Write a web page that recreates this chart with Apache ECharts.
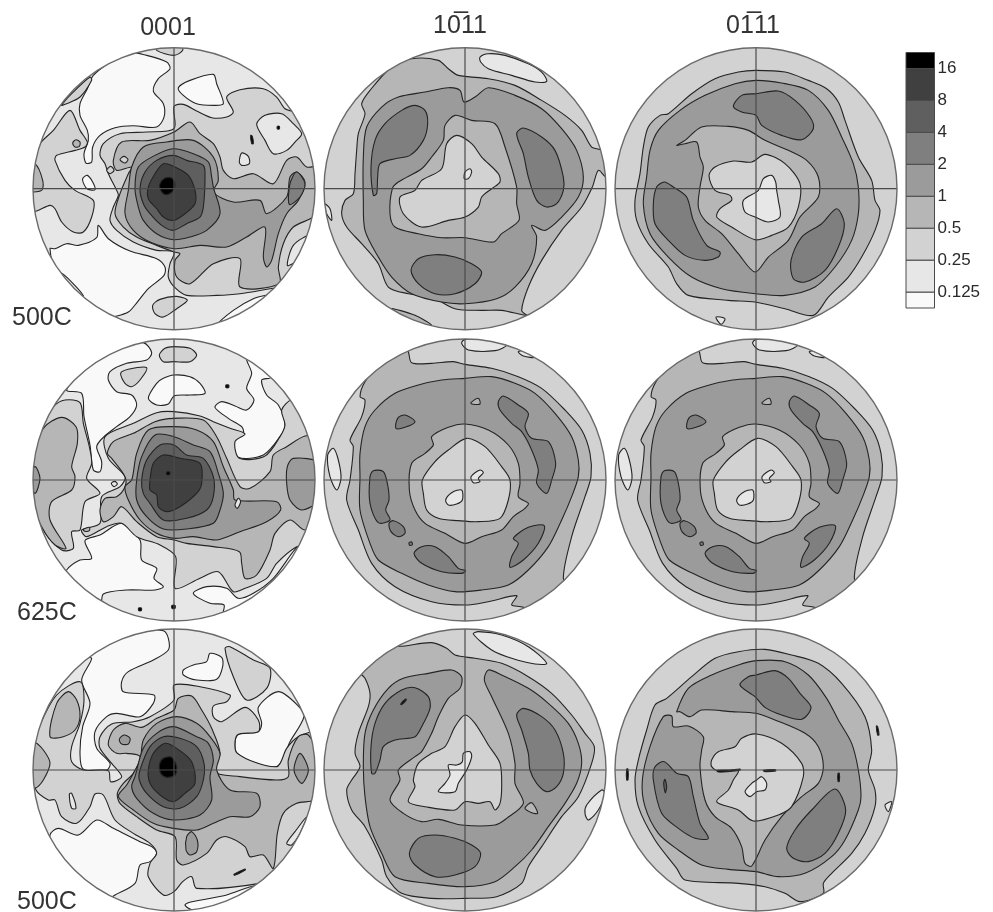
<!DOCTYPE html>
<html>
<head>
<meta charset="utf-8">
<style>html,body{margin:0;padding:0;background:#fff}#chart{width:993px;height:912px}</style>
<script src="https://cdn.jsdelivr.net/npm/echarts@6/dist/echarts.min.js"></script>
</head>
<body>
<div id="chart"></div>
<script>
// band greys, lowest (<0.125) to highest (>16)
const levelColors = ['#f9f9f9', '#e7e7e7', '#d2d2d2', '#b6b6b6', '#9b9b9b', '#7f7f7f', '#5f5f5f', '#404040', '#000000'];
const legendLabels = ['0.125', '0.25', '0.5', '1', '2', '4', '8', '16'];
const columnTitles = ['0001', '10\u030511', '01\u030511'];
const rowLabels = ['500C', '625C', '500C'];

// contours: [band, x, y, x, y, ...], painted in order
const fig0001a = [
  [0, 380,155, 440,165, 500,185, 510,205, 475,235, 460,272, 490,310, 492,350, 470,380, 400,376, 345,382, 300,405, 278,440, 275,485, 258,488, 252,460, 265,420, 262,390, 240,345, 240,310, 262,265, 280,225, 330,185],
  [0, 150,745, 165,745, 200,730, 235,735, 290,712, 295,675, 325,715, 390,752, 470,775, 495,800, 492,825, 445,865, 412,905, 385,935, 340,950, 300,960, 230,920, 170,830],
  [1, 183,818, 215,845, 250,886, 230,880, 190,840],
  [0, 535,262, 570,240, 640,222, 650,250, 670,310, 640,315, 590,310, 550,285],
  [0, 650,975, 700,930, 760,895, 815,880, 860,860, 900,800, 800,950, 650,1010],
  [2, 120,430, 160,390, 210,330, 240,390, 262,425, 255,440, 225,450, 170,465, 165,480, 195,540, 225,570, 280,600, 275,650, 250,695, 220,695, 185,665, 165,625, 150,615, 110,632, 90,632, 85,565, 95,490],
  [3, 218,428, 228,418, 240,425, 238,438, 225,440],
  [3, 80,570, 125,570, 128,540, 105,490, 80,500],
  [0, 248,535, 262,525, 278,545, 285,568, 262,566, 252,552],
  [2, 185,315, 215,280, 270,230, 275,240, 240,290, 195,312],
  [2, 470,150, 522,165, 548,150, 540,130, 470,130],
  [2, 458,915, 480,897, 530,888, 562,900, 530,925, 490,950, 465,940],
  [2, 522,318, 550,312, 590,332, 635,352, 680,350, 700,335, 680,290, 720,268, 790,265, 830,290, 855,325, 905,345, 965,565, 945,700, 925,780, 860,860, 830,862, 720,880, 650,885, 560,885, 525,862, 505,830, 510,790, 522,755, 470,750, 400,725, 350,690, 330,660, 340,620, 355,585, 350,570, 325,520, 315,490, 300,465, 310,430, 360,400, 440,395, 522,385],
  [1, 770,372, 795,345, 845,340, 880,370, 905,400, 885,425, 860,450, 820,460, 795,420],
  [1, 862,795, 880,735, 928,705, 920,740, 885,785],
  [3, 340,480, 365,425, 450,420, 522,395, 570,365, 600,400, 640,430, 660,470, 670,510, 700,535, 760,520, 820,550, 860,480, 890,470, 920,500, 960,500, 960,620, 940,650, 880,680, 850,730, 835,800, 838,850, 720,860, 720,775, 640,790, 570,850, 530,830, 525,780, 540,760, 522,755, 470,735, 410,710, 370,680, 345,640, 360,580, 385,520, 395,500, 350,510],
  [2, 360,478, 372,468, 384,478, 375,488],
  [2, 320,510, 332,498, 342,510, 330,520],
  [4, 385,570, 395,500, 430,440, 500,425, 580,420, 640,470, 655,540, 640,575, 700,605, 780,600, 800,640, 860,590, 870,530, 890,515, 915,545, 895,600, 860,640, 835,700, 815,780, 800,800, 790,770, 795,680, 740,710, 680,740, 600,735, 525,745, 450,725, 400,690, 375,640],
  [5, 870,550, 890,515, 915,550, 900,590, 868,612],
  [5, 405,565, 415,500, 465,465, 520,445, 580,460, 625,485, 635,530, 640,560, 660,640, 620,690, 570,710, 520,718, 470,700, 430,660, 415,620],
  [6, 420,565, 435,515, 470,480, 520,465, 560,480, 610,495, 615,530, 610,620, 600,650, 560,670, 520,690, 485,675, 450,640, 430,610],
  [7, 445,560, 465,520, 490,490, 525,500, 565,525, 585,570, 585,610, 555,640, 520,660, 490,650, 470,625, 445,595],
  [8, 480,550, 495,533, 515,533, 525,550, 520,570, 505,582, 490,580, 480,565],
  [1, 718,485, 725,458, 745,468, 748,490, 725,495],
  [8, 752,405, 757,408, 760,430, 755,430],
  [8, 832,378, 838,378, 838,386, 832,386]
];

const fig1011a = [
  [1, 495,170, 520,160, 570,165, 640,190, 680,215, 695,243, 660,245, 590,225, 520,205, 497,185],
  [1, 28,610, 45,625, 50,660, 35,640],
  [3, 230,925, 300,945, 350,975, 300,965],
  [3, 140,310, 165,270, 230,200, 290,175, 370,180, 400,205, 430,225, 520,235, 600,255, 680,300, 750,345, 800,390, 830,440, 860,450, 885,490, 880,530, 870,528, 850,510, 832,560, 800,620, 740,690, 680,780, 640,860, 620,930, 635,945, 560,930, 500,930, 420,925, 350,890, 280,880, 220,860, 190,790, 140,730, 95,680, 80,640, 90,600, 115,580, 120,520, 125,450, 130,400, 150,340],
  [4, 145,470, 155,380, 200,320, 250,290, 330,275, 400,262, 435,270, 447,305, 480,290, 520,262, 600,285, 680,325, 740,385, 785,450, 805,530, 790,590, 740,650, 690,690, 650,675, 665,710, 650,790, 600,860, 545,895, 450,910, 380,905, 290,880, 230,830, 190,770, 150,690, 145,600],
  [5, 175,585, 168,500, 180,420, 210,370, 260,330, 300,315, 330,330, 338,370, 325,420, 285,465, 240,475, 195,490, 188,530, 185,580],
  [5, 605,400, 625,383, 680,410, 720,450, 745,530, 745,570, 725,610, 695,620, 665,600, 640,530, 625,460],
  [5, 288,810, 310,775, 360,763, 420,770, 470,790, 500,815, 480,850, 420,880, 360,880, 310,850],
  [3, 232,565, 250,545, 320,505, 350,470, 385,420, 390,375, 420,345, 470,360, 540,370, 570,440, 605,560, 605,610, 612,660, 560,700, 535,725, 450,712, 380,712, 310,700, 240,680, 225,640],
  [2, 255,590, 300,570, 320,540, 380,505, 395,430, 425,405, 470,430, 500,470, 550,520, 555,545, 530,565, 500,590, 490,620, 450,650, 400,660, 320,680, 265,640],
  [1, 448,535, 450,515, 465,505, 470,515, 460,535]
];

const fig0111a = [
  [1, 333,950, 360,955, 348,972],
  [3, 95,660, 90,600, 105,520, 115,440, 130,380, 165,345, 190,340, 260,280, 330,235, 400,215, 453,210, 540,215, 610,240, 665,265, 700,305, 720,360, 760,470, 800,540, 810,600, 825,630, 810,690, 770,770, 730,830, 670,890, 625,945, 540,925, 450,905, 370,900, 250,885, 215,850, 190,800, 130,730],
  [4, 115,610, 125,530, 135,450, 160,390, 225,330, 300,285, 390,250, 453,240, 530,248, 610,270, 670,330, 710,410, 745,490, 760,560, 760,640, 740,720, 690,800, 630,860, 540,885, 453,880, 350,865, 260,830, 190,770, 135,700],
  [5, 385,318, 410,285, 453,280, 520,272, 570,300, 615,350, 625,385, 590,418, 530,405, 470,375, 453,345, 410,335],
  [5, 145,610, 155,560, 178,545, 205,560, 245,590, 265,660, 305,735, 345,755, 340,770, 300,780, 240,765, 190,720, 150,670],
  [5, 558,780, 590,710, 650,670, 695,625, 718,670, 700,740, 660,810, 600,845, 565,835],
  [3, 215,435, 240,430, 275,425, 285,470, 295,500, 285,560, 280,620, 300,660, 350,700, 400,760, 450,815, 490,770, 550,720, 585,650, 640,590, 640,530, 605,480, 550,450, 480,420, 430,390, 370,378, 290,380, 240,420],
  [2, 312,525, 330,500, 385,482, 440,485, 480,462, 540,490, 585,550, 580,620, 550,680, 500,705, 450,718, 380,680, 335,650, 345,625, 380,600, 375,585, 330,570],
  [1, 415,600, 460,570, 475,535, 500,525, 512,545, 515,570, 520,600, 525,650, 490,665, 450,650, 420,635]
];

const fig0001b = [
  [0, 200,180, 245,190, 252,260, 270,345, 280,420, 300,425, 305,395, 290,350, 310,322, 350,290, 390,260, 410,225, 395,195, 350,185, 325,150, 330,125, 380,100, 440,90, 455,68, 430,38, 340,50, 260,110],
  [0, 445,205, 470,160, 490,145, 522,135, 570,140, 600,160, 615,190, 570,195, 522,198, 505,222, 470,225],
  [0, 740,85, 755,130, 740,175, 762,210, 740,240, 705,228, 665,215, 645,232, 685,265, 725,290, 730,310, 700,330, 715,382, 790,375, 840,320, 855,285, 835,225, 800,195, 785,150, 812,142, 780,85],
  [0, 200,720, 240,690, 275,685, 255,632, 300,615, 365,580, 420,630, 425,690, 470,715, 462,745, 490,770, 465,780, 380,780, 310,792, 300,830, 190,760],
  [0, 580,790, 620,770, 680,775, 715,805, 760,790, 820,745, 905,640, 930,700, 780,880, 670,860, 672,825, 630,820],
  [2, 362,130, 385,118, 440,113, 420,150, 395,170, 375,160],
  [2, 478,75, 495,55, 522,50, 570,55, 590,75, 570,95, 522,95, 490,95],
  [2, 130,280, 160,230, 195,210, 240,218, 250,280, 268,350, 275,400, 260,445, 300,490, 255,515, 240,600, 215,605, 220,655, 185,660, 130,600, 85,500, 85,400],
  [3, 90,395, 130,295, 185,262, 228,290, 232,340, 215,410, 225,440, 215,480, 155,515, 150,570, 198,655, 165,645, 125,590, 90,500],
  [4, 85,445, 105,410, 120,445, 105,490],
  [2, 315,320, 400,280, 470,248, 522,245, 600,258, 640,275, 690,295, 735,312, 705,335, 718,385, 795,378, 840,320, 855,285, 845,240, 875,210, 900,240, 950,340, 965,570, 920,650, 890,650, 830,700, 800,745, 735,775, 700,785, 655,725, 600,745, 525,775, 527,680, 480,645, 410,620, 365,580, 320,590, 260,620, 245,600, 300,580, 305,500, 360,470, 375,440, 325,385],
  [3, 322,370, 340,335, 400,310, 465,275, 522,265, 610,270, 650,320, 680,385, 720,470, 750,475, 810,425, 820,375, 860,350, 915,318, 950,325, 950,560, 915,600, 870,570, 825,610, 810,660, 770,735, 735,745, 725,700, 718,665, 640,650, 560,640, 522,630, 470,620, 410,575, 365,530, 340,560, 310,575, 300,540, 315,505, 350,500, 375,470, 375,440, 335,385],
  [4, 860,460, 862,410, 880,385, 955,400, 955,510, 905,540, 870,510],
  [4, 395,450, 410,370, 445,300, 522,290, 590,300, 640,335, 670,410, 700,480, 705,510, 830,515, 842,540, 800,575, 720,605, 650,630, 580,620, 522,625, 470,610, 420,570, 385,510, 375,470],
  [5, 410,450, 425,380, 465,315, 522,320, 580,345, 630,365, 655,430, 670,490, 660,540, 640,580, 560,597, 490,597, 440,560, 410,510],
  [6, 425,450, 440,390, 480,345, 522,345, 560,375, 610,385, 640,440, 640,500, 620,540, 560,565, 490,570, 450,520, 430,490],
  [7, 450,450, 460,400, 490,375, 540,385, 600,400, 605,460, 590,490, 540,530, 500,545, 475,530, 470,495, 450,480],
  [1, 705,525, 715,505, 722,515, 712,535],
  [1, 334,460, 344,454, 352,462, 342,470],
  [3, 250,598, 268,592, 268,602, 254,604],
  [8, 678,165, 686,165, 686,173, 678,173],
  [8, 500,426, 509,426, 509,434, 500,434],
  [8, 416,834, 424,834, 424,842, 416,842],
  [8, 516,826, 525,826, 525,835, 516,835]
];

const fig1011b = [
  [1, 440,40, 450,28, 530,30, 575,45, 540,62, 460,60],
  [1, 610,65, 640,62, 660,82, 625,78],
  [1, 38,375, 55,355, 70,390, 78,445, 65,480, 45,440],
  [3, 280,65, 290,98, 350,100, 415,95, 450,103, 530,115, 610,140, 680,175, 750,240, 800,300, 825,370, 828,440, 810,500, 770,620, 745,745, 770,780, 660,860, 625,832, 590,825, 605,797, 520,815, 450,825, 350,815, 240,770, 170,700, 130,600, 95,510, 105,450, 115,350, 105,330, 140,260, 150,210, 135,200, 150,155, 200,90, 270,50],
  [4, 135,440, 135,370, 150,290, 180,240, 240,190, 310,165, 380,150, 450,145, 530,140, 600,160, 660,190, 720,250, 770,320, 790,390, 790,440, 770,500, 740,570, 700,650, 640,720, 580,765, 500,780, 420,785, 340,765, 260,730, 190,690, 165,640, 135,540],
  [5, 550,215, 565,198, 610,225, 640,250, 630,290, 650,325, 700,335, 722,400, 710,450, 695,490, 665,460, 670,420, 650,360, 620,305, 590,280, 555,240],
  [5, 165,440, 175,422, 205,425, 218,465, 222,510, 212,540, 225,570, 190,578, 165,520],
  [5, 222,580, 235,572, 265,590, 270,610, 250,620, 228,605],
  [5, 297,670, 320,650, 360,650, 400,680, 430,715, 452,722, 440,730, 380,725, 320,700],
  [5, 595,625, 640,592, 688,587, 670,640, 625,690, 585,712, 590,680, 610,640],
  [5, 243,295, 248,265, 270,255, 300,275, 270,292],
  [3, 468,218, 490,205, 495,222, 470,222],
  [5, 282,638, 290,636, 292,644, 284,646],
  [3, 290,400, 330,370, 355,345, 350,320, 400,292, 450,282, 520,300, 580,345, 610,400, 615,460, 610,500, 640,520, 630,535, 595,560, 560,600, 500,620, 450,640, 390,610, 330,580, 300,540, 283,480],
  [2, 322,450, 360,395, 400,360, 455,325, 510,350, 560,410, 585,450, 580,510, 555,565, 490,575, 430,572, 370,565, 335,540, 325,490],
  [1, 468,440, 495,420, 505,428, 490,445, 495,455, 475,458],
  [1, 392,510, 410,488, 440,480, 442,510, 425,522, 400,525]
];

// the 0111 pole figure at 625C reads the same as the 1011 one
const fig0111b = fig1011b;

const fig0001c = [
  [0, 275,115, 245,180, 270,250, 248,320, 240,400, 250,448, 320,450, 330,430, 290,385, 285,335, 320,290, 350,280, 420,290, 460,250, 462,225, 370,215, 365,185, 385,155, 460,120, 505,90, 505,55, 490,32, 400,30, 310,60, 250,110],
  [0, 150,645, 175,625, 235,645, 290,600, 340,625, 420,665, 455,680, 470,700, 450,725, 420,735, 405,790, 345,825, 300,850, 160,720],
  [0, 775,262, 835,215, 895,258, 912,290, 870,365, 830,440, 712,400, 712,345, 775,335, 785,310],
  [0, 555,855, 680,825, 775,795, 900,800, 700,900],
  [0, 550,150, 580,135, 620,125, 630,100, 665,112, 668,140, 650,178, 590,180, 550,165],
  [2, 675,85, 690,80, 760,120, 810,145, 800,205, 740,240, 700,170],
  [2, 120,315, 170,225, 240,185, 252,240, 240,310, 215,380, 215,425, 250,450, 325,452, 332,485, 365,470, 335,430, 300,385, 300,350, 335,312, 400,305, 450,290, 522,240, 522,195, 600,200, 690,225, 680,245, 640,258, 640,290, 665,305, 735,262, 775,300, 775,335, 712,345, 712,400, 830,440, 860,385, 895,350, 950,340, 950,540, 930,600, 885,680, 830,765, 780,790, 590,805, 575,770, 548,785, 522,815, 490,825, 445,770, 450,730, 470,700, 450,670, 400,640, 345,600, 310,525, 285,522, 270,560, 230,610, 185,590, 165,540, 145,540, 108,510, 100,450, 105,370],
  [1, 860,670, 885,635, 920,590, 900,640, 875,675],
  [1, 208,522, 215,520, 228,565, 215,565],
  [3, 150,350, 170,250, 205,215, 230,240, 240,290, 225,330, 190,350],
  [3, 85,450, 105,370, 130,390, 150,430, 130,480, 105,505, 85,500],
  [3, 325,375, 340,330, 375,310, 425,322, 470,295, 522,270, 535,235, 575,228, 605,270, 635,325, 660,400, 640,455, 720,470, 830,480, 865,470, 865,420, 895,350, 925,345, 950,400, 950,535, 890,550, 850,580, 832,640, 820,745, 790,705, 750,710, 735,680, 680,650, 650,660, 620,700, 550,735, 530,720, 525,650, 470,630, 410,590, 360,550, 352,520, 370,490, 400,460, 420,410, 380,400, 350,400],
  [4, 882,450, 900,400, 925,450, 905,490],
  [4, 358,358, 372,345, 390,355, 385,372, 365,372],
  [4, 380,495, 420,420, 430,360, 470,310, 530,290, 590,310, 630,350, 660,400, 650,450, 690,510, 770,520, 780,560, 750,590, 690,590, 640,610, 590,630, 520,625, 460,610, 400,570, 355,530],
  [4, 560,650, 575,635, 592,660, 590,695, 570,705, 558,690],
  [5, 405,470, 430,385, 470,340, 520,320, 590,350, 625,370, 640,420, 630,470, 635,540, 600,585, 520,600, 460,580, 410,535, 395,500],
  [6, 420,450, 450,380, 490,350, 540,355, 590,380, 612,430, 610,480, 590,530, 540,565, 490,560, 440,520, 418,480],
  [7, 445,450, 460,400, 495,370, 530,385, 575,425, 585,490, 555,520, 520,545, 480,525, 450,490],
  [8, 478,435, 490,415, 515,412, 530,440, 525,465, 500,472, 482,460],
  [8, 702,763, 735,747, 736,750, 704,766]
];

const fig1011c = [
  [1, 475,42, 490,35, 560,45, 640,80, 695,130, 660,132, 590,115, 530,90],
  [1, 810,580, 815,555, 860,510, 870,520, 850,570, 820,600],
  [3, 150,175, 130,150, 200,85, 270,78, 350,68, 395,85, 420,105, 480,115, 560,130, 640,170, 710,220, 770,285, 810,340, 838,380, 830,430, 790,530, 740,590, 680,680, 640,740, 620,790, 545,830, 450,835, 350,835, 260,820, 215,770, 200,720, 150,620, 110,570, 95,510, 110,480, 135,440, 120,400, 130,340, 160,260, 165,220],
  [4, 410,150, 440,170, 435,205, 400,235, 370,290, 350,340, 320,395, 300,410, 250,450, 255,480, 225,540, 265,580, 320,605, 370,598, 440,615, 540,615, 575,595, 625,550, 600,490, 600,430, 580,340, 530,230, 508,180, 520,150, 560,165, 640,205, 700,250, 760,310, 790,370, 800,430, 785,490, 750,550, 700,620, 650,690, 600,740, 540,785, 450,800, 340,790, 240,770, 200,700, 165,620, 150,530, 145,440, 150,340, 175,270, 220,205, 265,175, 340,160],
  [5, 170,460, 168,380, 180,310, 210,250, 260,210, 300,203, 340,230, 345,265, 320,320, 300,350, 240,360, 205,380, 195,420, 180,460],
  [8, 257,252, 272,237, 274,240, 260,254],
  [5, 605,285, 625,265, 680,290, 720,330, 745,400, 745,460, 725,500, 695,515, 665,490, 645,450, 640,400, 620,330],
  [5, 283,700, 310,655, 360,645, 420,655, 470,675, 497,700, 480,740, 420,765, 360,770, 300,735],
  [2, 280,545, 300,500, 295,480, 310,430, 350,400, 390,380, 420,320, 450,285, 480,310, 520,375, 555,430, 560,500, 555,550, 540,570, 525,545, 490,550, 450,545, 420,570, 330,560],
  [1, 370,515, 390,490, 405,465, 400,435, 425,435, 442,425, 445,400, 465,395, 470,410, 455,450, 430,490, 420,515],
  [3, 630,565, 650,548, 668,580, 650,578]
];

const fig0111c = [
  [3, 90,480, 100,420, 125,330, 150,255, 185,235, 260,170, 330,115, 400,95, 480,88, 560,105, 640,130, 710,190, 780,290, 800,390, 790,450, 810,510, 810,560, 780,640, 740,700, 680,760, 655,790, 655,820, 585,845, 540,820, 480,800, 400,790, 240,780, 215,745, 150,660, 100,560],
  [4, 215,275, 250,205, 320,165, 400,135, 453,122, 540,125, 610,165, 665,235, 700,300, 740,370, 760,450, 768,530, 760,570, 720,660, 680,710, 600,760, 520,770, 453,755, 370,748, 290,735, 220,690, 160,640, 120,560, 112,480, 135,380, 175,290, 200,288, 205,320, 250,318, 295,350, 290,390, 285,440, 300,540, 330,590, 380,625, 410,680, 420,730, 440,738, 480,660, 530,590, 590,530, 640,490, 655,440, 640,380, 600,340, 510,300, 453,280, 380,275, 290,270, 255,290, 225,275],
  [5, 405,195, 430,170, 453,165, 510,152, 550,175, 585,220, 618,262, 590,298, 530,285, 480,262, 450,230],
  [5, 145,480, 150,440, 178,425, 215,460, 250,470, 265,530, 285,610, 310,655, 270,655, 220,625, 170,580],
  [6, 176,490, 180,478, 185,500, 181,518],
  [5, 545,685, 570,630, 620,570, 690,507, 722,570, 700,640, 660,700, 610,725, 565,715],
  [2, 320,420, 340,395, 390,380, 410,355, 455,342, 530,370, 590,430, 595,470, 560,560, 520,585, 445,603, 400,570, 335,545, 370,510, 385,480, 400,452, 345,455, 320,440],
  [8, 335,451, 375,450, 405,447, 405,451, 375,454, 340,456],
  [8, 475,451, 510,449, 512,453, 480,455],
  [1, 420,515, 440,490, 455,480, 470,470, 485,490, 480,510, 455,515, 435,530],
  [8, 814,318, 818,320, 822,345, 818,345],
  [8, 65,447, 69,447, 69,480, 65,480],
  [8, 699,460, 703,460, 703,484, 699,484],
  [1, 840,555, 860,545, 850,575]
];

const panels = [
  { contours: fig0001a, base: 1, cx: 522, cy: 565, left: 33, top: 47.7 },
  { contours: fig1011a, base: 2, cx: 450, cy: 565, left: 324, top: 47.7 },
  { contours: fig0111a, base: 2, cx: 453, cy: 565, left: 615, top: 47.7 },
  { contours: fig0001b, base: 1, cx: 522, cy: 450, left: 33, top: 339 },
  { contours: fig1011b, base: 2, cx: 450, cy: 450, left: 324, top: 339 },
  { contours: fig0111b, base: 2, cx: 450, cy: 450, left: 615, top: 339 },
  { contours: fig0001c, base: 1, cx: 522, cy: 450, left: 33, top: 629 },
  { contours: fig1011c, base: 2, cx: 450, cy: 450, left: 324, top: 629 },
  { contours: fig0111c, base: 2, cx: 453, cy: 450, left: 615, top: 629 }
];
const R = 423;
const SIZE = 282;

const grid = [], xAxis = [], yAxis = [], series = [];

panels.forEach((p, i) => {
  grid.push({ left: p.left, top: p.top, width: SIZE, height: SIZE });
  xAxis.push({ type: 'value', gridIndex: i, min: p.cx - R, max: p.cx + R, show: false });
  yAxis.push({ type: 'value', gridIndex: i, min: p.cy - R, max: p.cy + R, inverse: true, show: false });
  const items = [[p.base]].concat(p.contours);
  series.push({
    type: 'custom',
    xAxisIndex: i,
    yAxisIndex: i,
    clip: false,
    silent: true,
    data: items.map((c, k) => [k]),
    renderItem(params, api) {
      const c0 = api.coord([p.cx, p.cy]);
      const r = api.size([R, 0])[0];
      const circleShape = { cx: c0[0], cy: c0[1], r };
      if (params.dataIndex === 0) {
        return { type: 'circle', shape: circleShape, style: { fill: levelColors[p.base], stroke: null } };
      }
      const c = items[params.dataIndex];
      const points = [];
      for (let k = 1; k < c.length; k += 2) points.push(api.coord([c[k], c[k + 1]]));
      return {
        type: 'polygon',
        shape: { points, smooth: 0.3 },
        style: { fill: levelColors[c[0]], stroke: '#242424', lineWidth: 1.1 },
        clipPath: { type: 'circle', shape: circleShape }
      };
    }
  });
  // crosshair and rim
  series.push({
    type: 'custom',
    xAxisIndex: i,
    yAxisIndex: i,
    clip: false,
    silent: true,
    z: 5,
    data: [[0]],
    renderItem(params, api) {
      const c0 = api.coord([p.cx, p.cy]);
      const r = api.size([R, 0])[0];
      const lineStyle = { stroke: '#4a4a4a', lineWidth: 1.2 };
      return {
        type: 'group',
        children: [
          { type: 'line', shape: { x1: c0[0] - r, y1: c0[1], x2: c0[0] + r, y2: c0[1] }, style: lineStyle },
          { type: 'line', shape: { x1: c0[0], y1: c0[1] - r, x2: c0[0], y2: c0[1] + r }, style: lineStyle },
          { type: 'circle', shape: { cx: c0[0], cy: c0[1], r }, style: { fill: null, stroke: '#6a6a6a', lineWidth: 1.4 } }
        ]
      };
    }
  });
});

// legend bar: half bands at both ends, edges on the labelled levels
const legendBands = levelColors.map((col, k) => [k === 0 ? 0 : k - 0.5, k === 0 ? 0.5 : Math.min(k + 0.5, 8), k]);
const li = panels.length;
grid.push({ left: 906, top: 52.5, width: 28.5, height: 255.5 });
xAxis.push({ type: 'value', gridIndex: li, min: 0, max: 1, show: false });
yAxis.push({
  type: 'value',
  gridIndex: li,
  min: 0,
  max: 8,
  position: 'right',
  axisLine: { show: false },
  axisTick: { show: false },
  splitLine: { show: false },
  axisLabel: {
    customValues: legendLabels.map((l, k) => k + 0.5),
    formatter: v => legendLabels[v - 0.5],
    margin: 3,
    fontFamily: 'Liberation Sans',
    fontSize: 17,
    color: '#2a2a2a'
  }
});
series.push({
  type: 'custom',
  xAxisIndex: li,
  yAxisIndex: li,
  clip: false,
  silent: true,
  data: legendBands,
  renderItem(params, api) {
    const a = api.coord([0, api.value(1)]);
    const b = api.coord([1, api.value(0)]);
    return {
      type: 'rect',
      shape: { x: a[0], y: a[1], width: b[0] - a[0], height: b[1] - a[1] },
      style: { fill: levelColors[api.value(2)], stroke: '#4a4a4a', lineWidth: 1 }
    };
  }
});

const labelStyle = { fontFamily: 'Liberation Sans', fontSize: 25, fontWeight: 'normal', color: '#333' };
const titles = [
  { text: columnTitles[0], left: 168, top: 16, textAlign: 'center', textStyle: labelStyle, padding: 0 },
  { text: columnTitles[1], left: 460, top: 14, textAlign: 'center', textStyle: labelStyle, padding: 0 },
  { text: columnTitles[2], left: 753, top: 14, textAlign: 'center', textStyle: labelStyle, padding: 0 },
  { text: rowLabels[0], left: 12, top: 306, textStyle: labelStyle, padding: 0 },
  { text: rowLabels[1], left: 17, top: 601, textStyle: labelStyle, padding: 0 },
  { text: rowLabels[2], left: 17, top: 890, textStyle: labelStyle, padding: 0 }
];

const chart = echarts.init(document.getElementById('chart'));
chart.setOption({
  backgroundColor: '#fff',
  animation: false,
  title: titles,
  grid,
  xAxis,
  yAxis,
  series
});
</script>
</body>
</html>
